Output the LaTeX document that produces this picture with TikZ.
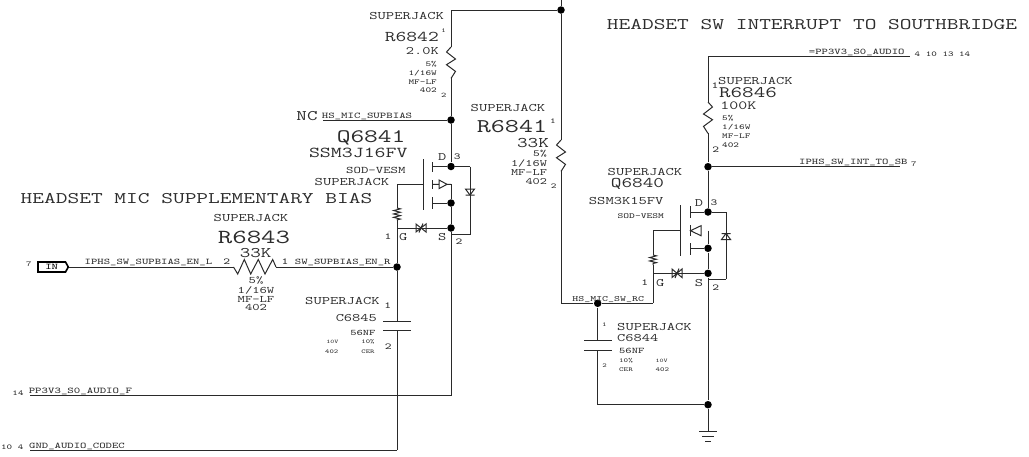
\documentclass[tikz,border=0pt]{standalone}
\usepackage{fontspec}
\usetikzlibrary{decorations.pathmorphing}
\newfontfamily\schfont[FakeStretch=1.405,Scale=1.08]{Latin Modern Mono}
\definecolor{wirecol}{HTML}{2A2A2A}
\definecolor{textcol}{HTML}{2C2C2C}
\newcommand{\zigres}[3]{\draw (#1) -- ++(#3*-4.5,5) -- ++(#3*9,7) -- ++(#3*-9,5.7) -- ++(#3*9,6.7) -- (#2);}
\tikzset{
    txt/.style={inner sep=0pt,text=textcol,font=\schfont\fontsize{#1}{#1}\selectfont},
    dot/.style={circle,fill=black,inner sep=0pt,minimum size=7.5pt},
    resg/.style={decorate,decoration={zigzag,segment length=3.4pt,amplitude=3.4pt}}
}
\begin{document}
\begin{tikzpicture}[x=1pt,y=-1pt,line width=1pt,draw=wirecol]
    \useasboundingbox (0,0) rectangle (1029,456);

        % junctions
        \begin{scope}[every node/.style={dot}]
            \node (top) at (561,10) {};
            \node (mic) at (451,120) {};
            \node (qd1) at (451,166.5) {};
            \node (qb1) at (451,203) {};
            \node (qs1) at (451,228) {};
            \node (enr) at (397,267) {};
            \node (qd2) at (708,212) {};
            \node (qb2) at (708,248.3) {};
            \node (qs2) at (708,273.3) {};
            \node (sw) at (597.7,303.3) {};
            \node (gndj) at (708,404.7) {};
            \node (int) at (708,166.7) {};
        \end{scope}

        \coordinate (topend) at (561,0);
        \coordinate (r42top) at (451,10);
        \coordinate (r42a) at (451,47);
        \coordinate (r42b) at (451,78.4);
        \coordinate (micend) at (323,120);
        \coordinate (r41a) at (561,140);
        \coordinate (r41b) at (561,171.4);
        \coordinate (swl) at (561,303.3);
        \coordinate (swr) at (653,303.3);
        \coordinate (d1a) at (470,166.5);
        \coordinate (d1b) at (470,234.7);
        \coordinate (d1c) at (451,234.7);
        \coordinate (ch1a) at (432.7,166.5);
        \coordinate (ch1b) at (432.7,203);
        \coordinate (ar1) at (451,184.3);
        \coordinate (g1a) at (423.7,184.3);
        \coordinate (g1b) at (397,184.3);
        \coordinate (gr1a) at (397,208);
        \coordinate (gr1b) at (397,220);
        \coordinate (g1c) at (397,228);
        \coordinate (c5a) at (397,321.7);
        \coordinate (c5b) at (397,330.7);
        \coordinate (gnd1) at (397,450);
        \coordinate (gnd0) at (30,450);
        \coordinate (pp1) at (451,395.7);
        \coordinate (pp0) at (30,395.7);
        \coordinate (r43a) at (233.5,267);
        \coordinate (r43b) at (276,267);
        \coordinate (inr) at (68.3,267);
        \coordinate (d2a) at (726,212);
        \coordinate (d2b) at (726,279.3);
        \coordinate (d2c) at (708,279.3);
        \coordinate (ch2a) at (690,212);
        \coordinate (ch2b) at (690,248.3);
        \coordinate (ar2) at (708,230.7);
        \coordinate (g2a) at (680,230.7);
        \coordinate (g2b) at (653,230.7);
        \coordinate (gr2a) at (653,255);
        \coordinate (gr2b) at (653,265);
        \coordinate (g2c) at (653,273.3);
        \coordinate (c4a) at (597.7,340.7);
        \coordinate (c4b) at (597.7,350);
        \coordinate (c4c) at (597.7,404.7);
        \coordinate (gnd2) at (708,431.7);
        \coordinate (ppa) at (708,56);
        \coordinate (ppe) at (910,56);
        \coordinate (r46a) at (708,102);
        \coordinate (r46b) at (708,133.4);
        \coordinate (intend) at (900,166.7);

        % wires
        \begin{scope}[every edge/.style={draw=wirecol}]
            \path (topend) edge (top);
            \path (top) edge (r41a);
            \path (r41b) edge (swl);
            \path (swl) edge (sw);
            \path (sw) edge (swr);
            \path (top) edge (r42top);
            \path (r42top) edge (r42a);
            \path (r42b) edge (mic);
            \path (micend) edge (mic);
            \path (mic) edge (qd1);
            \path (ch1a) edge (qd1);
            \path (qd1) edge (d1a);
            \path (d1a) edge (d1b);
            \path (d1b) edge (d1c);
            \path (ch1b) edge (qb1);
            \path (ar1) edge (qb1);
            \path (qb1) edge (qs1);
            \path (qs1) edge (pp1);
            \path (pp0) edge (pp1);
            \path (g1a) edge (g1b);
            \path (g1b) edge (gr1a);
            \path (gr1b) edge (enr);
            \path (g1c) edge (qs1);
            \path (inr) edge (r43a);
            \path (r43b) edge (enr);
            \path (enr) edge (c5a);
            \path (c5b) edge (gnd1);
            \path (gnd1) edge (gnd0);
            \path (ppa) edge (ppe);
            \path (ppa) edge (r46a);
            \path (r46b) edge (int);
            \path (int) edge (intend);
            \path (int) edge (qd2);
            \path (ch2a) edge (qd2);
            \path (qd2) edge (d2a);
            \path (d2a) edge (d2b);
            \path (d2b) edge (d2c);
            \path (ch2b) edge (qb2);
            \path (ar2) edge (qb2);
            \path (qb2) edge (qs2);
            \path (qs2) edge (gndj);
            \path (gndj) edge (gnd2);
            \path (g2a) edge (g2b);
            \path (g2b) edge (gr2a);
            \path (gr2b) edge (swr);
            \path (g2c) edge (qs2);
            \path (sw) edge (c4a);
            \path (c4b) edge (c4c);
            \path (c4c) edge (gndj);
        \end{scope}

        % resistors
        \zigres{r42a}{r42b}{1}
        \zigres{r41a}{r41b}{1}
        \zigres{r46a}{r46b}{-1}
        \draw (r43a) -- (237.7,274) -- (244.3,259.5) -- (250.7,274) -- (258.3,259.5) -- (265,274) -- (272.7,259.5) -- (r43b);
        \draw [resg] (gr1a) -- (gr1b);
        \draw [resg] (gr2a) -- (gr2b);

        % capacitor plates
        \draw (383,321.7) -- (410.7,321.7) (383,330.7) -- (410.7,330.7);
        \draw (584.3,340.7) -- (611.7,340.7) (584.3,350) -- (611.7,350);

        % ground
        \draw (699.3,431.7) -- (716.7,431.7) (702,436.7) -- (714,436.7) (705,441) -- (711,441);

        % input flag
        \draw [line width=1.6pt,draw=black] (38,262) -- (65.5,262) -- (68.3,267) -- (65.5,272) -- (38,272) -- cycle;

        % Q6841
        \draw (423.7,159) -- (423.7,210);
        \draw (432.7,162) -- (432.7,172) (432.7,180) -- (432.7,189) (432.7,197) -- (432.7,209);
        \draw (432.7,184.3) -- (439,184.3) (439,180) -- (447,184.3) -- (439,188.6) -- cycle (447,184.3) -- (451,184.3);
        \draw (465.5,189) -- (474.5,189) -- (470,195) -- cycle (465.5,195) -- (474.5,195);
        \draw (416,224) -- (416,232) -- (421,228) -- cycle (426,224) -- (426,232) -- (421,228) -- cycle (419,232.5) -- (421,228) -- (423,223.5);

        % Q6840
        \draw (680,205) -- (680,255.7);
        \draw (690,206) -- (690,218) (690,225) -- (690,236) (690,243) -- (690,255);
        \draw (690.5,230.7) -- (701,225.7) -- (701,235.7) -- cycle;
        \draw (721.5,239.5) -- (730.5,239.5) -- (726,233.5) -- cycle (721.5,233.5) -- (730.5,233.5);
        \draw (672,269) -- (672,277.5) -- (677,273.3) -- cycle (682,269) -- (682,277.5) -- (677,273.3) -- cycle (675,278) -- (677,273.3) -- (679,268.5);

        % titles
        \node [txt=15] (hdrsw) at (812,25) {HEADSET SW INTERRUPT TO SOUTHBRIDGE};
        \node [txt=15] (hdrmic) at (196.5,199) {HEADSET MIC SUPPLEMENTARY BIAS};

        % nets
        \node [txt=8] (ppaudio) at (856.7,52.3) {=PP3V3\_S0\_AUDIO};
        \node [txt=6.9] (ppref) at (942.5,54.7) {4 10 13 14};
        \node [txt=8] (intnet) at (853.4,162.3) {IPHS\_SW\_INT\_TO\_SB};
        \node [txt=6.9] (intref) at (914,164) {7};
        \node [txt=8.1] (micnet) at (367,116) {HS\_MIC\_SUPBIAS};
        \node [txt=13.5] (nc) at (307,116) {NC};
        \node [txt=8] (ennetl) at (148.4,262.3) {IPHS\_SW\_SUPBIAS\_EN\_L};
        \node [txt=8] (ennetr) at (342.7,262.3) {SW\_SUPBIAS\_EN\_R};
        \node [txt=6.9] (inref) at (29,264.3) {7};
        \node [txt=8,text=black] (intext) at (51.7,267) {IN};
        \node [txt=8.1] (ppfnet) at (80.4,391.7) {PP3V3\_S0\_AUDIO\_F};
        \node [txt=6.9] (ppfref) at (18,393.3) {14};
        \node [txt=8] (gndnet) at (77,446.7) {GND\_AUDIO\_CODEC};
        \node [txt=6.9] (gndref) at (12.2,447.3) {10 4};
        \node [txt=7.4] (swnet) at (608.2,299.3) {HS\_MIC\_SW\_RC};

        % R6842
        \node [txt=10.6] (r42sj) at (406.7,16) {SUPERJACK};
        \node [txt=13.8,anchor=east] (r42ref) at (439.3,37) {R6842};
        \node [txt=5.5] (r42p1) at (443.7,31) {1};
        \node [txt=10.5,anchor=east] (r42val) at (439.3,51) {2.0K};
        \node [txt=7,anchor=east] (r42tol) at (437.3,63.7) {5\%};
        \node [txt=7,anchor=east] (r42pow) at (437.3,72.7) {1/16W};
        \node [txt=7,anchor=east] (r42typ) at (437.3,81.7) {MF-LF};
        \node [txt=7,anchor=east] (r42pkg) at (437.3,90) {402};
        \node [txt=6.5] (r42p2) at (443.7,95.5) {2};

        % R6841
        \node [txt=10.6] (r41sj) at (508,108.3) {SUPERJACK};
        \node [txt=18] (r41ref) at (512,126.7) {R6841};
        \node [txt=7] (r41p1) at (553,121) {1};
        \node [txt=13.6] (r41val) at (533,143) {33K};
        \node [txt=8.5] (r41tol) at (540,153.3) {5\%};
        \node [txt=9] (r41pow) at (529,163.3) {1/16W};
        \node [txt=9] (r41typ) at (529,172.3) {MF-LF};
        \node [txt=9] (r41pkg) at (536.3,181.7) {402};
        \node [txt=7] (r41p2) at (553.7,185.7) {2};

        % Q6841
        \node [txt=17.6,anchor=east] (q41ref) at (406,138) {Q6841};
        \node [txt=14,anchor=east] (q41part) at (408,153) {SSM3J16FV};
        \node [txt=9.3,anchor=east] (q41pkg) at (406,170) {SOD-VESM};
        \node [txt=10.6] (q41sj) at (352,182) {SUPERJACK};
        \node [txt=10.5] (q41d) at (442.3,157.3) {D};
        \node [txt=8.5] (q41p3) at (457.3,157) {3};
        \node [txt=10.5] (q41g) at (403.3,237) {G};
        \node [txt=10.5] (q41s) at (442.3,237) {S};
        \node [txt=8.5] (q41p1) at (388,237) {1};
        \node [txt=8.5] (q41p2) at (459,241.7) {2};

        % R6843
        \node [txt=10.6] (r43sj) at (251,218) {SUPERJACK};
        \node [txt=18.5] (r43ref) at (254,237) {R6843};
        \node [txt=13.5] (r43val) at (255.7,252.7) {33K};
        \node [txt=9.2] (r43tol) at (256,280.7) {5\%};
        \node [txt=9.2] (r43pow) at (256,290) {1/16W};
        \node [txt=9.2] (r43typ) at (256,299) {MF-LF};
        \node [txt=9.2] (r43pkg) at (256,307.7) {402};
        \node [txt=8.5] (r43p2) at (226.7,262) {2};
        \node [txt=8.5] (r43p1) at (285,262) {1};

        % C6845
        \node [txt=10.6] (c5sj) at (342.5,300.7) {SUPERJACK};
        \node [txt=8.5] (c5p1) at (387.7,305.7) {1};
        \node [txt=10.5,anchor=east] (c5ref) at (377.3,318.3) {C6845};
        \node [txt=7.8,anchor=east] (c5val) at (376,333.3) {56NF};
        \node [txt=5] (c5v) at (332.3,342) {10V};
        \node [txt=5.4] (c5tol) at (368,342) {10\%};
        \node [txt=5.4] (c5pkg) at (331.7,351.7) {402};
        \node [txt=5.4] (c5typ) at (368,351.7) {CER};
        \node [txt=8.5] (c5p2) at (388.3,346.7) {2};

        % Q6840
        \node [txt=10.6] (q40sj) at (645,172) {SUPERJACK};
        \node [txt=13.6] (q40ref) at (637.5,184.3) {Q6840};
        \node [txt=10.6,anchor=east] (q40part) at (664,200.7) {SSM3K15FV};
        \node [txt=7.2] (q40pkg) at (640.8,216) {SOD-VESM};
        \node [txt=10.5] (q40d) at (699,203) {D};
        \node [txt=8.5] (q40p3) at (714,203) {3};
        \node [txt=8.5] (q40p1) at (644.7,282.7) {1};
        \node [txt=10.5] (q40g) at (660.3,282.7) {G};
        \node [txt=10.5] (q40s) at (699,282.7) {S};
        \node [txt=8.5] (q40p2) at (715.7,287.3) {2};

        % C6844
        \node [txt=5.5] (c4p1) at (604.3,324.3) {1};
        \node [txt=10.6] (c4sj) at (654.5,327.3) {SUPERJACK};
        \node [txt=10.5,anchor=west] (c4ref) at (616.7,337.7) {C6844};
        \node [txt=7.9,anchor=west] (c4val) at (618.7,351.3) {56NF};
        \node [txt=5.6] (c4tol) at (626,361) {10\%};
        \node [txt=5] (c4v) at (661.7,361) {10V};
        \node [txt=5.6] (c4typ) at (626,370) {CER};
        \node [txt=5.6] (c4pkg) at (662.3,370) {402};
        \node [txt=5.5] (c4p2) at (604.7,365.7) {2};

        % R6846
        \node [txt=10.6] (r46sj) at (755.5,80.7) {SUPERJACK};
        \node [txt=14.8] (r46ref) at (748,92.3) {R6846};
        \node [txt=8.5] (r46p1) at (715,86) {1};
        \node [txt=11.5] (r46val) at (738.3,106) {100K};
        \node [txt=7,anchor=west] (r46tol) at (721.7,118.3) {5\%};
        \node [txt=7,anchor=west] (r46pow) at (721.7,127.3) {1/16W};
        \node [txt=7,anchor=west] (r46typ) at (721.7,136.3) {MF-LF};
        \node [txt=7,anchor=west] (r46pkg) at (721.7,145) {402};
        \node [txt=8.5] (r46p2) at (715.7,149.3) {2};

    \end{tikzpicture}
\end{document}
